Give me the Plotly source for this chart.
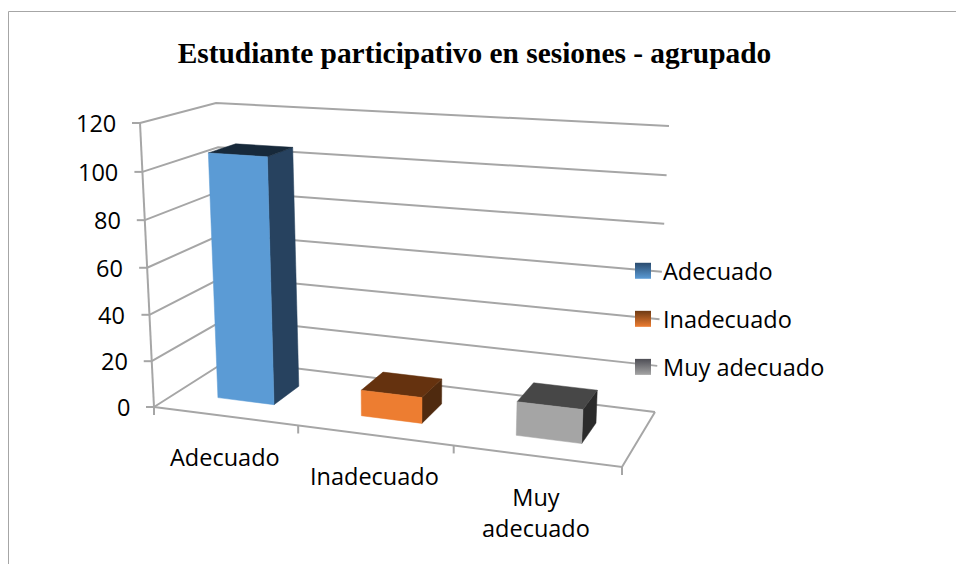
import plotly.graph_objects as go

# Data
categories = ["Adecuado", "Inadecuado", "Muy adecuado"]
category_labels = ["Adecuado", "Inadecuado", "Muy<br>adecuado"]
values = [106, 11, 14]
y_ticks = [0, 20, 40, 60, 80, 100, 120]
title = "Estudiante participativo en sesiones - agrupado"
front_colors = ["#5B9BD5", "#ED7D31", "#A5A5A5"]
side_colors = ["#27425F", "#4F2A0F", "#2B2B2B"]
top_colors = ["#17293A", "#65320F", "#474747"]
swatch_dark = ["#2A4B6E", "#6E3A14", "#4E4E55"]
z_max = 120
GRID = "#A6A6A6"
FONT = "Open Sans, Noto Sans, sans-serif"
FONT_SIZE = 23.5

# Oblique chart box: screen position of the eight corners of the 3D box
BOX = {
    (0, 0, 0): (154, 407), (1, 0, 0): (622, 467),
    (0, 1, 0): (228, 360), (1, 1, 0): (655, 412),
    (0, 0, 1): (140, 123), (1, 0, 1): (636, 153),
    (0, 1, 1): (216, 103), (1, 1, 1): (669, 126),
}


def warp(t, k):
    return t / (1 + k * (1 - t))


def project(u, d, z):
    """u: category position 0-1, d: depth 0-1, z: value."""
    a, b, c = warp(u, 0.123), d, warp(z / z_max, 0.04)
    out = [0.0, 0.0]
    for (i, j, l), p in BOX.items():
        w = (a if i else 1 - a) * (b if j else 1 - b) * (c if l else 1 - c)
        out[0] += w * p[0]
        out[1] += w * p[1]
    return out


def polyline(points):
    xy = [project(*p) for p in points]
    return [p[0] for p in xy], [p[1] for p in xy]


fig = go.Figure()

# Wall gridlines, floor, axis and ticks
gx, gy = [], []
for tick in y_ticks:
    x, y = polyline([(0, 0, tick), (0, 1, tick), (1, 1, tick)])
    gx += x + [None]
    gy += y + [None]
    px, py = project(0, 0, tick)
    gx += [px - 8, px, None]
    gy += [py, py, None]
x, y = polyline([(0, 0, 0), (1, 0, 0), (1, 1, 0)])
gx += x + [None]
gy += y + [None]
x, y = polyline([(0, 0, 0), (0, 0, z_max)])
gx += x + [None]
gy += y + [None]
n = len(categories)
for i in range(n + 1):
    px, py = project(i / n, 0, 0)
    gx += [px, px, None]
    gy += [py, py + 8, None]
fig.add_trace(go.Scatter(x=gx, y=gy, mode="lines", line=dict(color=GRID, width=2),
                         showlegend=False, hoverinfo="skip"))

# Bars: three visible faces of each box
BAR_W = 0.4 / n
D0, D1 = 0.31, 0.69
for i, (name, v) in enumerate(zip(categories, values)):
    u0 = (i + 0.5) / n - BAR_W / 2
    u1 = (i + 0.5) / n + BAR_W / 2
    faces = [
        ([(u1, D0, 0), (u1, D1, 0), (u1, D1, v), (u1, D0, v)], side_colors[i]),
        ([(u0, D0, v), (u1, D0, v), (u1, D1, v), (u0, D1, v)], top_colors[i]),
        ([(u0, D0, 0), (u1, D0, 0), (u1, D0, v), (u0, D0, v)], front_colors[i]),
    ]
    for pts, color in faces:
        x, y = polyline(pts + pts[:1])
        fig.add_trace(go.Scatter(x=x, y=y, mode="lines", fill="toself", fillcolor=color,
                                 line=dict(color=color, width=0.5), legendgroup=name,
                                 showlegend=False, name=name, hoverinfo="name"))
    fig.add_trace(go.Scatter(x=[None], y=[None], mode="markers", name=name, legendgroup=name,
                             marker=dict(symbol="square", size=16, color=swatch_dark[i],
                                         gradient=dict(type="vertical", color=front_colors[i]),
                                         line=dict(width=0))))

annotations = []
for tick in y_ticks:
    px, py = project(0, 0, tick)
    annotations.append(dict(x=px - 22, y=py, text=str(tick), xref="x", yref="y", xanchor="right",
                            yanchor="middle", showarrow=False, font=dict(size=FONT_SIZE, family=FONT, color="#000")))
for i, label in enumerate(category_labels):
    px, py = project((i + 0.5) / n, 0, 0)
    annotations.append(dict(x=px, y=py + 23, text=label, xref="x", yref="y", xanchor="center",
                            yanchor="top", showarrow=False, font=dict(size=FONT_SIZE, family=FONT, color="#000")))

fig.update_layout(
    width=956, height=564, margin=dict(l=0, r=0, t=0, b=0),
    paper_bgcolor="white", plot_bgcolor="white",
    title=dict(text="<b>" + title + "</b>", x=0.4963, xanchor="center", y=1 - 53 / 564, yanchor="middle",
               font=dict(family="Liberation Serif", size=29.4, color="black")),
    xaxis=dict(range=[0, 956], visible=False, fixedrange=True),
    yaxis=dict(range=[564, 0], visible=False, fixedrange=True),
    legend=dict(x=630 / 956, y=1 - 249 / 564, xanchor="left", yanchor="top",
                bgcolor="rgba(0,0,0,0)", tracegroupgap=14.5, indentation=-7,
                font=dict(family=FONT, size=FONT_SIZE, color="#000")),
    annotations=annotations,
    shapes=[dict(type="line", xref="x", yref="y", x0=8.5, x1=956, y0=11.5, y1=11.5, line=dict(color="#A6A6A6", width=1)),
            dict(type="line", xref="x", yref="y", x0=8.5, x1=8.5, y0=11.5, y1=564, line=dict(color="#A6A6A6", width=1))],
)

fig.write_html("out.html", config=dict(displayModeBar=False),
               post_script="document.body.style.margin='0';document.body.style.overflow='hidden';")
